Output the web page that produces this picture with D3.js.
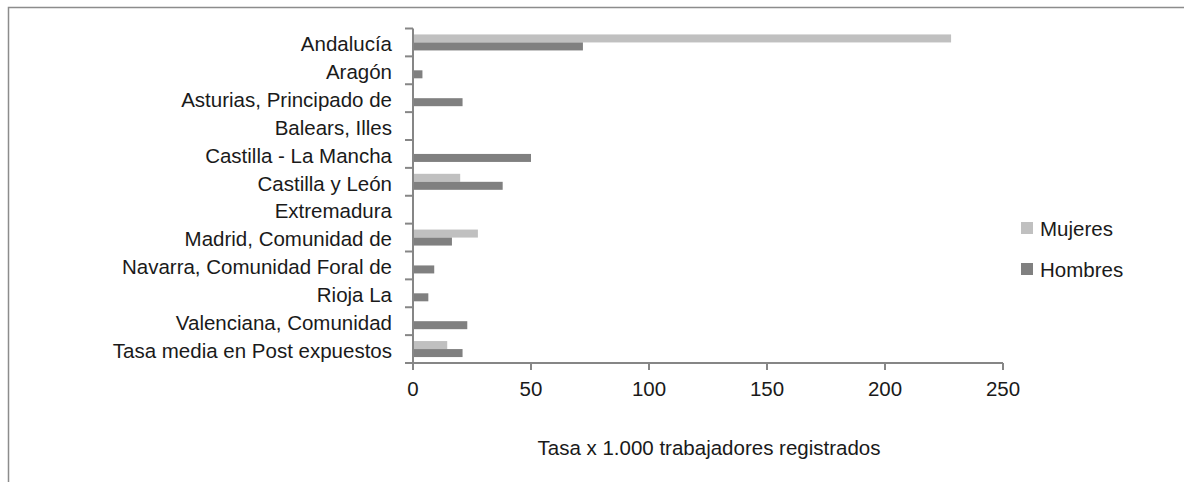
<!DOCTYPE html>
<html><head><meta charset="utf-8">
<script src="https://cdn.jsdelivr.net/npm/d3@7"></script>
<style>
body{margin:0;background:#fff;}
text{font-family:"Liberation Sans Narrow","Arial Narrow","Liberation Sans",sans-serif;fill:#1a1a1a;font-size:20.5px;}
</style></head>
<body><svg id="c" width="1184" height="482"></svg>
<script>
const categories = ["Andalucía","Aragón","Asturias, Principado de","Balears, Illes","Castilla - La Mancha","Castilla y León","Extremadura","Madrid, Comunidad de","Navarra, Comunidad Foral de","Rioja La","Valenciana, Comunidad","Tasa media en Post expuestos"];
const mujeres = [228, 0, 0, 0, 0, 20, 0, 27.5, 0, 0, 0, 14.5];
const hombres = [72, 4, 21, 0, 50, 38, 0, 16.5, 9, 6.5, 23, 21];
const seriesNames = ["Mujeres","Hombres"];
const seriesColors = ["#c0c0c0","#808080"];
const xTicks = [0,50,100,150,200,250];
const xTitle = "Tasa x 1.000 trabajadores registrados";

const svg = d3.select("#c");
svg.append("rect").attr("x",8.5).attr("y",7.5).attr("width",1300).attr("height",600)
  .attr("fill","none").attr("stroke","#8c8c8c").attr("stroke-width",1.5);

const x = d3.scaleLinear().domain([0,250]).range([413,1003]);
const y = d3.scaleBand().domain(categories).range([28.5,363]);
const inner = d3.scaleBand().domain(seriesNames).range([0,16]);
const axisColor = "#868686";

// bars
const data = [mujeres, hombres];
data.forEach((vals,si)=>{
  svg.append("g").selectAll("rect").data(categories).join("rect")
    .attr("x", x(0))
    .attr("y", (d)=> y(d) + (y.bandwidth()-16)/2 + inner(seriesNames[si]))
    .attr("width", (d,i)=> Math.max(0, x(vals[i]) - x(0)))
    .attr("height", inner.bandwidth())
    .attr("fill", seriesColors[si]);
});

// y axis
const gy = svg.append("g").attr("transform",`translate(${x(0)},0)`);
gy.append("line").attr("x1",0).attr("x2",0).attr("y1",y.range()[0]).attr("y2",y.range()[1])
  .attr("stroke",axisColor).attr("stroke-width",2);
const bounds = categories.map(c=>y(c)).concat([y.range()[1]]);
gy.selectAll("line.t").data(bounds).join("line").attr("class","t")
  .attr("x1",-8).attr("x2",0).attr("y1",d=>d).attr("y2",d=>d)
  .attr("stroke",axisColor).attr("stroke-width",2);
gy.selectAll("text").data(categories).join("text")
  .attr("x",-21).attr("y",d=>y(d)+y.bandwidth()/2+8.8)
  .attr("text-anchor","end").text(d=>d);

// x axis
const gx = svg.append("g").attr("transform",`translate(0,${y.range()[1]})`);
gx.append("line").attr("x1",x(0)).attr("x2",x(250)).attr("y1",0).attr("y2",0)
  .attr("stroke",axisColor).attr("stroke-width",2);
gx.selectAll("line.t").data(xTicks).join("line").attr("class","t")
  .attr("x1",d=>x(d)).attr("x2",d=>x(d)).attr("y1",0).attr("y2",7)
  .attr("stroke",axisColor).attr("stroke-width",2);
gx.selectAll("text").data(xTicks).join("text")
  .attr("x",d=>x(d)).attr("y",33).attr("text-anchor","middle")
  .text(d=>d);

svg.append("text").attr("x",709).attr("y",455).attr("text-anchor","middle")
  .text(xTitle);

// legend
const lg = svg.append("g");
seriesNames.forEach((s,i)=>{
  const ly = 228 + i*41;
  lg.append("rect").attr("x",1021).attr("y",ly-6).attr("width",12).attr("height",12).attr("fill",seriesColors[i]);
  lg.append("text").attr("x",1040).attr("y",ly+7.5).text(s);
});
</script></body></html>
